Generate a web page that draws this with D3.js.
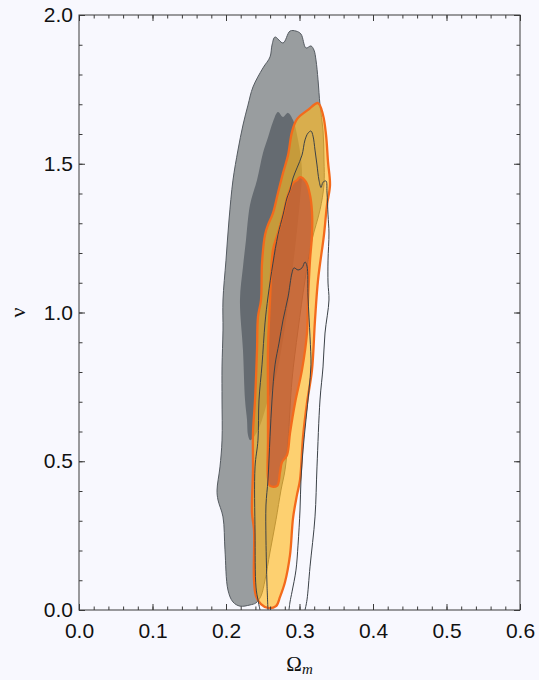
<!DOCTYPE html>
<html>
<head>
<meta charset="utf-8">
<script src="https://cdn.jsdelivr.net/npm/d3@7"></script>
<style>
  html, body { margin: 0; padding: 0; background: #f8f8fe; }
  svg { display: block; }
</style>
</head>
<body>
<svg id="chart" width="539" height="680"></svg>
<script>
// Axis ticks
const xTickValues = [0.0, 0.1, 0.2, 0.3, 0.4, 0.5, 0.6];
const yTickValues = [0.0, 0.5, 1.0, 1.5, 2.0];

// Sample A: 95% (outer) and 68% (inner) credible regions, [Ωm, ν]
const grayOuter = [
  [0.219,0.013],[0.2095,0.027],[0.2027,0.067],[0.1986,0.202],[0.1959,0.313],[0.1891,0.370],
  [0.1878,0.403],[0.1918,0.481],[0.1946,0.571],[0.1946,0.706],[0.1946,0.817],[0.1959,0.941],
  [0.1959,1.042],[0.200,1.176],[0.2041,1.311],[0.2095,1.445],[0.2163,1.546],[0.2231,1.630],
  [0.2299,1.697],[0.2367,1.758],[0.2503,1.822],[0.2599,1.859],[0.2626,1.899],[0.2667,1.926],
  [0.2776,1.906],[0.2871,1.946],[0.2952,1.946],[0.302,1.936],[0.3088,1.889],[0.3156,1.896],
  [0.3197,1.882],[0.3224,1.849],[0.3252,1.782],[0.3279,1.697],[0.332,1.613],[0.3333,1.513],
  [0.3333,1.429],[0.3279,1.345],[0.317,1.244],[0.3075,1.109],[0.298,0.941],[0.2898,0.773],
  [0.2844,0.571],[0.2803,0.471],[0.2748,0.403],[0.268,0.303],[0.2599,0.195],[0.2531,0.101],
  [0.2476,0.047],[0.2408,0.024],[0.2327,0.017]
];
const grayInner = [
  [0.2707,1.674],[0.2776,1.657],[0.2844,1.671],[0.2912,1.647],[0.298,1.580],[0.3034,1.479],
  [0.3007,1.378],[0.2952,1.244],[0.2871,1.076],[0.2776,0.908],[0.2667,0.773],[0.2571,0.706],
  [0.249,0.639],[0.2422,0.598],[0.2367,0.578],[0.2327,0.571],[0.2299,0.588],[0.2286,0.639],
  [0.2259,0.706],[0.2231,0.874],[0.219,1.042],[0.2231,1.153],[0.2272,1.244],[0.2327,1.362],
  [0.2422,1.445],[0.2503,1.536],[0.2571,1.588],[0.2639,1.641]
];

// Sample B: 95% and 68% credible regions
const orangeOuter = [
  [0.3252,1.704],[0.332,1.664],[0.3361,1.597],[0.3388,1.506],[0.3415,1.429],[0.3374,1.361],
  [0.3333,1.261],[0.3252,1.109],[0.3211,0.975],[0.3170,0.807],[0.3102,0.696],[0.3048,0.582],
  [0.3007,0.437],[0.2966,0.387],[0.2912,0.309],[0.2871,0.185],[0.2803,0.094],[0.2735,0.044],
  [0.268,0.013],[0.2571,0.007],[0.2476,0.020],[0.2408,0.047],[0.2381,0.101],[0.2381,0.269],
  [0.2354,0.326],[0.2367,0.471],[0.2367,0.595],[0.2395,0.706],[0.2422,0.874],[0.2435,0.985],
  [0.2476,1.042],[0.249,1.166],[0.2531,1.261],[0.2571,1.294],[0.2639,1.334],[0.2707,1.402],
  [0.2776,1.469],[0.2844,1.529],[0.2898,1.607],[0.2966,1.650],[0.3116,1.681]
];
const orangeInner = [
  [0.3007,1.455],[0.3088,1.439],[0.3143,1.395],[0.317,1.338],[0.317,1.261],[0.3143,1.176],
  [0.3116,1.042],[0.3102,0.931],[0.3034,0.807],[0.2939,0.696],[0.2871,0.595],[0.283,0.521],
  [0.2762,0.497],[0.2735,0.464],[0.2694,0.417],[0.2599,0.417],[0.2571,0.444],[0.2571,0.571],
  [0.2571,0.706],[0.2571,0.874],[0.2599,1.042],[0.2639,1.210],[0.2707,1.267],[0.2776,1.328],
  [0.2844,1.395],[0.2912,1.435],[0.2966,1.445]
];

// Sample C: contour lines only (open at ν = 0)
const lineOuter = [
  [0.2463,0],[0.2435,0.034],[0.2408,0.077],[0.2395,0.259],[0.2395,0.481],[0.2435,0.571],
  [0.2449,0.706],[0.249,0.824],[0.2531,0.965],[0.2571,1.052],[0.2639,1.166],[0.2707,1.261],
  [0.2776,1.328],[0.283,1.385],[0.2871,1.412],[0.2912,1.452],[0.2966,1.486],[0.3034,1.529],
  [0.3075,1.580],[0.3116,1.603],[0.3156,1.610],[0.3184,1.593],[0.3211,1.546],[0.3238,1.496],
  [0.3265,1.445],[0.3293,1.420],[0.332,1.438],[0.3361,1.442],[0.3374,1.405],[0.3388,1.328],
  [0.3401,1.267],[0.3388,1.176],[0.3388,1.099],[0.3401,1.042],[0.3347,0.931],[0.3320,0.817],
  [0.3279,0.706],[0.3238,0.481],[0.3211,0.313],[0.3143,0.145],[0.3102,0.034],[0.3075,0]
];
const lineInner = [
  [0.2571,0],[0.2558,0.084],[0.2544,0.235],[0.2544,0.353],[0.2571,0.437],[0.2599,0.582],
  [0.2626,0.706],[0.2667,0.824],[0.2721,0.897],[0.2776,0.975],[0.2844,1.052],[0.2898,1.133],
  [0.2925,1.150],[0.298,1.143],[0.3034,1.150],[0.3075,1.170],[0.3102,1.156],[0.3116,1.052],
  [0.3143,0.918],[0.3156,0.824],[0.3129,0.739],[0.3088,0.639],[0.3048,0.538],[0.302,0.437],
  [0.3007,0.336],[0.298,0.218],[0.2952,0.134],[0.2898,0.061],[0.2871,0.027],[0.2857,0]
];

const svg = d3.select("#chart");
const margin = { left: 79, right: 19, top: 15, bottom: 70 };
const W = 539, H = 680;
const x0 = margin.left, x1 = W - margin.right, y0 = margin.top, y1 = H - margin.bottom;

const x = d3.scaleLinear().domain([0, 0.6]).range([x0, x1]);
const y = d3.scaleLinear().domain([0, 2.0]).range([y1, y0]);

svg.append("rect").attr("width", W).attr("height", H).attr("fill", "#f8f8fe");

svg.append("defs").append("clipPath").attr("id", "plot-clip")
  .append("rect").attr("x", x0).attr("y", y0).attr("width", x1 - x0).attr("height", y1 - y0);

const plot = svg.append("g").attr("clip-path", "url(#plot-clip)");

const area = d3.line().x(d => x(d[0])).y(d => y(d[1])).curve(d3.curveCatmullRomClosed.alpha(0.5));
const open = d3.line().x(d => x(d[0])).y(d => y(d[1])).curve(d3.curveCatmullRom.alpha(0.5));

// Sample A
plot.append("path").attr("d", area(grayOuter))
  .attr("fill", "#999d9f").attr("stroke", "#555b61").attr("stroke-width", 1);
plot.append("path").attr("d", area(grayInner))
  .attr("fill", "#656b71").attr("stroke", "none");

// Sample B
plot.append("path").attr("d", area(orangeOuter))
  .attr("fill", "rgb(255,184,28)").attr("fill-opacity", 0.63)
  .attr("stroke", "#f36a1c").attr("stroke-width", 2.3).attr("stroke-linejoin", "round");
plot.append("path").attr("d", area(orangeInner))
  .attr("fill", "rgb(191,74,52)").attr("fill-opacity", 0.66)
  .attr("stroke", "#f36a1c").attr("stroke-width", 2.3).attr("stroke-linejoin", "round");

// Sample C
[lineOuter, lineInner].forEach(c => {
  plot.append("path").attr("d", open(c))
    .attr("fill", "none").attr("stroke", "#3b4147").attr("stroke-width", 1);
});

// Frame
svg.append("rect").attr("x", x0).attr("y", y0).attr("width", x1 - x0).attr("height", y1 - y0)
  .attr("fill", "none").attr("stroke", "#3a3a3a").attr("stroke-width", 1);

const fmt = d3.format(".1f");
const xMinor = d3.range(0, 0.6001, 0.02);
const yMinor = d3.range(0, 2.0001, 0.1);
const font = "'Liberation Sans', Arial, sans-serif";

function styleAxis(g) {
  g.select(".domain").remove();
  g.selectAll(".tick line").attr("stroke", "#3a3a3a");
  g.selectAll(".tick text").attr("font-family", font).attr("font-size", 21).attr("fill", "#111");
}

// Minor ticks on all four sides
svg.append("g").attr("transform", `translate(0,${y1})`)
  .call(d3.axisBottom(x).tickValues(xMinor).tickSize(-3.5).tickFormat("")).call(styleAxis);
svg.append("g").attr("transform", `translate(0,${y0})`)
  .call(d3.axisTop(x).tickValues(xMinor).tickSize(-3.5).tickFormat("")).call(styleAxis);
svg.append("g").attr("transform", `translate(${x0},0)`)
  .call(d3.axisLeft(y).tickValues(yMinor).tickSize(-3.5).tickFormat("")).call(styleAxis);
svg.append("g").attr("transform", `translate(${x1},0)`)
  .call(d3.axisRight(y).tickValues(yMinor).tickSize(-3.5).tickFormat("")).call(styleAxis);

// Major ticks with labels
svg.append("g").attr("transform", `translate(0,${y1})`)
  .call(d3.axisBottom(x).tickValues(xTickValues).tickSize(-6).tickPadding(13).tickFormat(fmt))
  .call(styleAxis);
svg.append("g").attr("transform", `translate(0,${y0})`)
  .call(d3.axisTop(x).tickValues(xTickValues).tickSize(-6).tickFormat("")).call(styleAxis);
svg.append("g").attr("transform", `translate(${x0},0)`)
  .call(d3.axisLeft(y).tickValues(yTickValues).tickSize(-6).tickPadding(6).tickFormat(fmt))
  .call(styleAxis);
svg.append("g").attr("transform", `translate(${x1},0)`)
  .call(d3.axisRight(y).tickValues(yTickValues).tickSize(-6).tickFormat("")).call(styleAxis);

// Axis titles
const serif = "'Liberation Serif', 'DejaVu Serif', serif";
const xt = svg.append("text").attr("x", (x0 + x1) / 2).attr("y", 671)
  .attr("text-anchor", "middle").attr("font-family", serif).attr("font-size", 21).attr("fill", "#111");
xt.append("tspan").text("Ω");
xt.append("tspan").attr("font-style", "italic").attr("font-size", 15).attr("dy", 3).text("m");

svg.append("text").attr("transform", `translate(25,${(y0 + y1) / 2}) rotate(-90)`)
  .attr("text-anchor", "middle").attr("font-family", serif)
  .attr("font-size", 22).attr("fill", "#111").text("ν");
</script>
</body>
</html>
